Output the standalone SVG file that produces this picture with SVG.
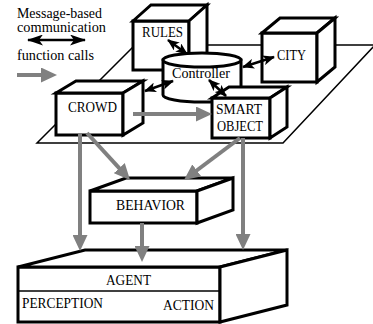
<svg xmlns="http://www.w3.org/2000/svg" width="373" height="324" viewBox="0 0 373 324" font-family="'Liberation Serif', 'DejaVu Serif', 'Times New Roman', serif" font-size="14">
<style>
text{font-family:'Liberation Serif','DejaVu Serif','Times New Roman',serif;font-size:14px;fill:#000}
.box{fill:#fff;stroke:#000;stroke-width:3;stroke-linejoin:miter}
.plat{fill:none;stroke:#000;stroke-width:1.5}
.fc{stroke:#808080;stroke-width:4;fill:none;marker-end:url(#ga)}
.msg{stroke:#000;stroke-width:2.5;fill:none;marker-start:url(#ba);marker-end:url(#ba)}
</style>
<defs>
<marker id="ga" markerUnits="userSpaceOnUse" markerWidth="17" markerHeight="15" refX="1" refY="7.5" orient="auto">
<path d="M0,0 L16,7.5 L0,15 Z" fill="#808080"/>
</marker>
<marker id="ba" markerUnits="userSpaceOnUse" markerWidth="12" markerHeight="10" refX="11" refY="5" orient="auto-start-reverse">
<path d="M0,0 L12,5 L0,10 L3,5 Z" fill="#000"/>
</marker>
<marker id="bl" markerUnits="userSpaceOnUse" markerWidth="16" markerHeight="11" refX="15" refY="5.5" orient="auto-start-reverse">
<path d="M0,0 L16,5.5 L0,11 L4,5.5 Z" fill="#000"/>
</marker>
</defs>

<g id="legend">
<text x="17" y="18" textLength="85" lengthAdjust="spacingAndGlyphs">Message-based</text>
<text x="17" y="32" textLength="89" lengthAdjust="spacingAndGlyphs">communication</text>
<line x1="28" y1="40" x2="85" y2="40" stroke="#000" stroke-width="2.5" marker-start="url(#bl)" marker-end="url(#bl)"/>
<text x="17" y="60" textLength="77" lengthAdjust="spacingAndGlyphs">function calls</text>
<line class="fc" x1="17" y1="75" x2="42" y2="75"/>
</g>

<g id="platform">
<polygon class="plat" points="37,143 283,143 375,45 135,45"/>
</g>

<g id="rules">
<rect class="box" x="133" y="21" width="56" height="49"/>
<polygon class="box" points="133,21 151,5 207,5 189,21"/>
<polygon class="box" points="189,21 207,5 207,54 189,70"/>
<text x="142" y="37" textLength="41" lengthAdjust="spacingAndGlyphs">RULES</text>
</g>

<g id="city">
<rect class="box" x="262" y="33" width="55" height="49"/>
<polygon class="box" points="262,33 280,18 335,18 317,33"/>
<polygon class="box" points="317,33 335,18 335,67 317,82"/>
<text x="277" y="60" textLength="29" lengthAdjust="spacingAndGlyphs">CITY</text>
</g>

<g id="controller">
<path class="box" d="M163,60 L163,95 A39,7 0 0 0 241,95 L241,60 Z"/>
<ellipse class="box" cx="202" cy="60" rx="39" ry="7"/>
<text x="172" y="78" textLength="58" lengthAdjust="spacingAndGlyphs">Controller</text>
</g>

<g id="crowd">
<rect class="box" x="56" y="93" width="67" height="42"/>
<polygon class="box" points="56,93 76,81 143,81 123,93"/>
<polygon class="box" points="123,93 143,81 143,123 123,135"/>
<text x="68" y="112" textLength="49" lengthAdjust="spacingAndGlyphs">CROWD</text>
</g>

<g id="smart-object">
<rect class="box" x="212" y="98" width="58" height="40"/>
<polygon class="box" points="212,98 229,87 287,87 270,98"/>
<polygon class="box" points="270,98 287,87 287,127 270,138"/>
<text x="216" y="114" textLength="46" lengthAdjust="spacingAndGlyphs">SMART</text>
<text x="217" y="131" textLength="46" lengthAdjust="spacingAndGlyphs">OBJECT</text>
</g>

<g id="behavior">
<rect class="box" x="90" y="191" width="107" height="32"/>
<polygon class="box" points="90,191 126,178 233,178 197,191"/>
<polygon class="box" points="197,191 233,178 233,210 197,223"/>
<text x="116" y="210" textLength="69" lengthAdjust="spacingAndGlyphs">BEHAVIOR</text>
</g>

<g id="agent">
<rect class="box" x="18" y="267" width="202" height="55"/>
<polygon class="box" points="18,267 85,250 287,250 220,267"/>
<polygon class="box" points="220,267 287,250 287,305 220,322"/>
<line x1="18" y1="291" x2="220" y2="291" stroke="#000" stroke-width="1.5"/>
<text x="106" y="285" textLength="45" lengthAdjust="spacingAndGlyphs">AGENT</text>
<text x="22" y="308" textLength="81" lengthAdjust="spacingAndGlyphs">PERCEPTION</text>
<text x="163" y="310" textLength="51" lengthAdjust="spacingAndGlyphs">ACTION</text>
</g>

<g id="connectors">
<line class="fc" x1="133" y1="114" x2="197" y2="114"/>
<line class="fc" x1="87" y1="133" x2="119.9" y2="168.9"/>
<line class="fc" x1="80" y1="134" x2="80" y2="236"/>
<line class="fc" x1="240" y1="138" x2="196" y2="171"/>
<line class="fc" x1="243" y1="138" x2="243" y2="235"/>
<line class="fc" x1="142" y1="223" x2="142" y2="247"/>
<line class="msg" x1="168" y1="40" x2="187" y2="54"/>
<line class="msg" x1="145" y1="91" x2="173" y2="81"/>
<line class="msg" x1="243" y1="67" x2="274" y2="57"/>
<line class="msg" x1="209" y1="80" x2="226" y2="96"/>
</g>
</svg>
